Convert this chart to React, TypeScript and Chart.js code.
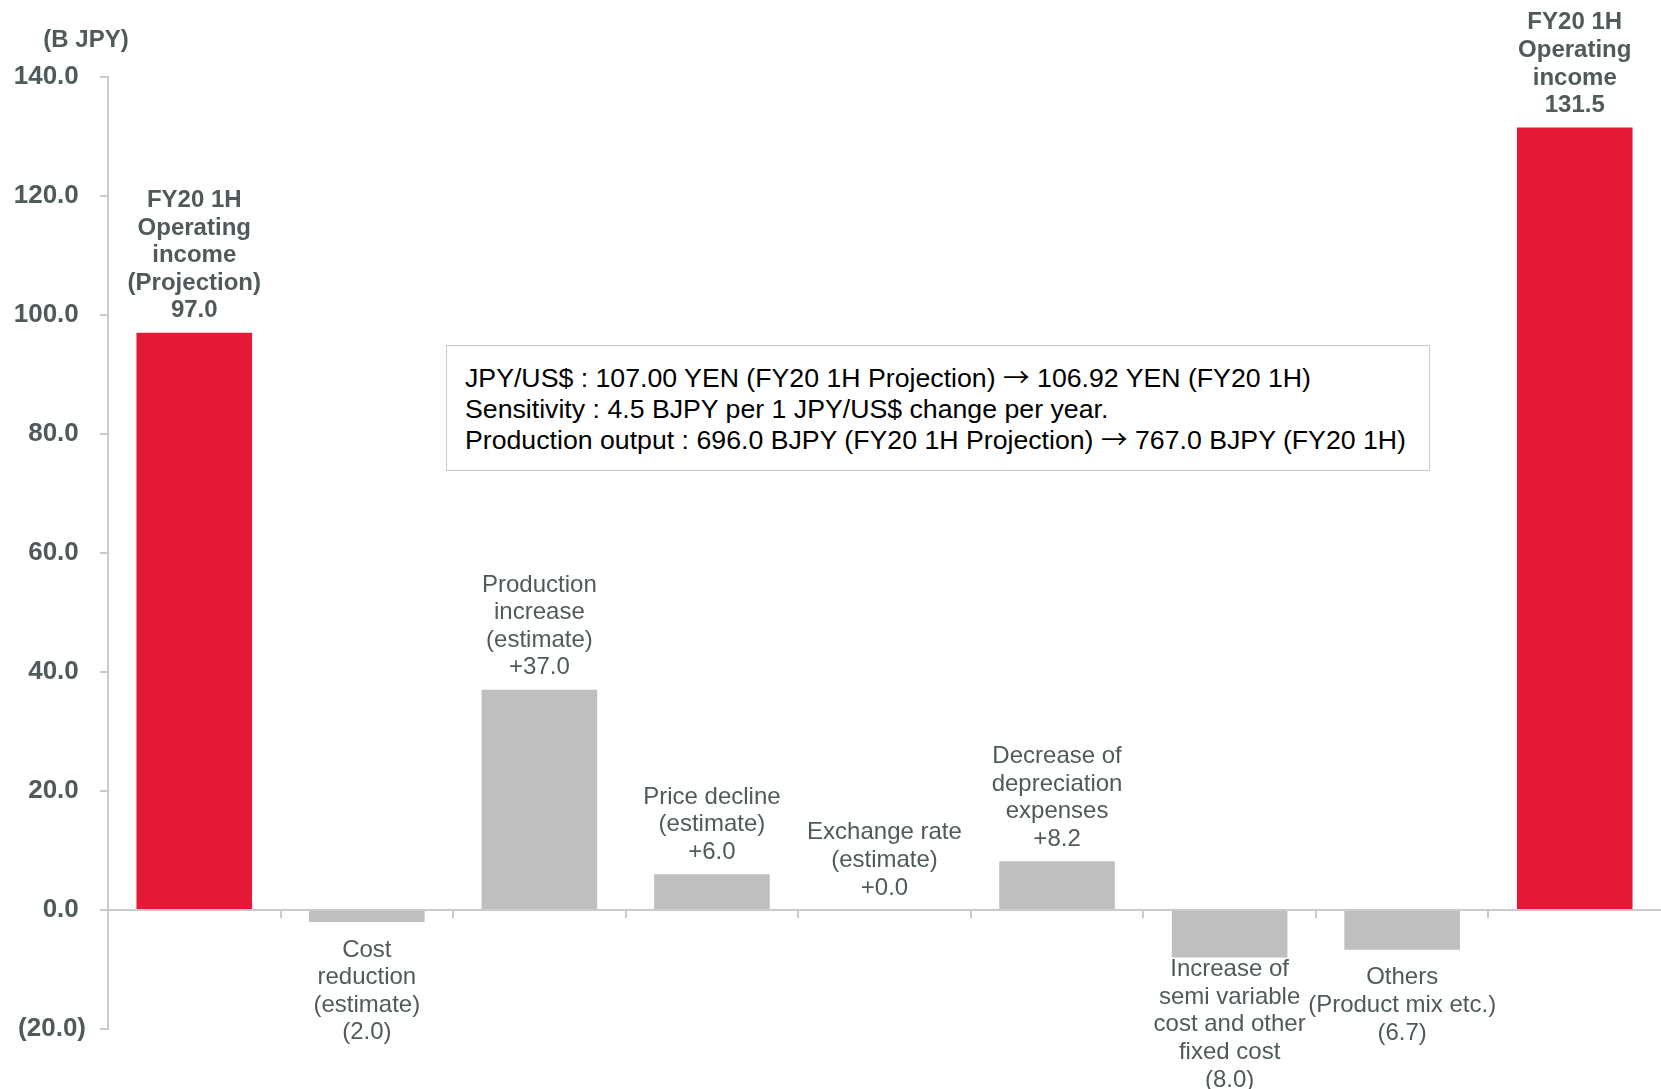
import { useEffect, useRef } from "react";
import { Chart, registerables } from "chart.js";

Chart.register(...registerables);

// Category captions, one string per text line
const categoryLines: string[][] = [
  ["FY20 1H", "Operating", "income", "(Projection)"],
  ["Cost", "reduction", "(estimate)"],
  ["Production", "increase", "(estimate)"],
  ["Price decline", "(estimate)"],
  ["Exchange rate", "(estimate)"],
  ["Decrease of", "depreciation", "expenses"],
  ["Increase of", "semi variable", "cost and other", "fixed cost"],
  ["Others", "(Product mix etc.)"],
  ["FY20 1H", "Operating", "income"],
];

// Operating income (B JPY) and the change factors between the two totals
const values = [97.0, -2.0, 37.0, 6.0, 0.0, 8.2, -8.0, -6.7, 131.5];
const isTotal = [true, false, false, false, false, false, false, false, true];

const yMin = -20;
const yMax = 140;
const yStep = 20;

const unitLabel = "(B JPY)";
const noteLines = [
  "JPY/US$ : 107.00 YEN (FY20 1H Projection) \u2192 106.92 YEN (FY20 1H)",
  "Sensitivity : 4.5 BJPY per 1 JPY/US$ change per year.",
  "Production output : 696.0 BJPY (FY20 1H Projection) \u2192 767.0 BJPY (FY20 1H)",
];

const WIDTH = 1661;
const HEIGHT = 1089;
const FONT = '"Liberation Sans", Arial, sans-serif';
const ARROW_FONT = '"Noto Sans CJK JP", "DejaVu Sans", sans-serif';
const RED = "#E31937";
const GREY = "#BFBFBF";
const AXIS = "#CACACA";
const TEXT = "#505A5A";
const LINE = 27.6;

function fmtValue(v: number, total: boolean): string {
  if (total) return v.toFixed(1);
  if (v < 0) return `(${(-v).toFixed(1)})`;
  return `+${v.toFixed(1)}`;
}

function fmtTick(v: number): string {
  if (v < 0) return `(${(-v).toFixed(1)})`;
  return `${v.toFixed(1)}\u00a0`;
}

// renders a note line, giving the arrows a wider glyph
function noteLine(t: string) {
  const parts = t.split("\u2192");
  const out: any[] = [];
  parts.forEach((p, i) => {
    if (i > 0)
      out.push(
        <span key={`a${i}`} style={{ fontFamily: ARROW_FONT, lineHeight: 0 }}>
          {"\u2192"}
        </span>
      );
    out.push(<span key={`t${i}`}>{p}</span>);
  });
  return out;
}

const labelPlugin = {
  id: "barLabels",
  afterDatasetsDraw(chart: any) {
    const { ctx, scales } = chart;
    const xs = scales.x;
    const ys = scales.y;
    const y0 = ys.getPixelForValue(0);
    ctx.save();

    // category boundary ticks hanging below the zero line
    ctx.strokeStyle = AXIS;
    ctx.lineWidth = 2;
    for (let i = 1; i < values.length; i++) {
      const bx = Math.round((xs.getPixelForValue(i - 1) + xs.getPixelForValue(i)) / 2);
      ctx.beginPath();
      ctx.moveTo(bx, y0);
      ctx.lineTo(bx, y0 + 8);
      ctx.stroke();
    }

    // captions with values above positive bars, below negative ones
    const meta = chart.getDatasetMeta(0);
    ctx.fillStyle = TEXT;
    ctx.textAlign = "center";
    ctx.textBaseline = "middle";
    values.forEach((v, i) => {
      const bar = meta.data[i];
      const lines = [...categoryLines[i], fmtValue(v, isTotal[i])];
      ctx.font = `${isTotal[i] ? "bold " : ""}24px ${FONT}`;
      if (v >= 0) {
        const last = bar.y - 22;
        lines.forEach((t, k) => ctx.fillText(t, bar.x, last - (lines.length - 1 - k) * LINE));
      } else {
        let first = bar.y + 28;
        const maxLast = chart.height - 9;
        if (first + (lines.length - 1) * LINE > maxLast) first = maxLast - (lines.length - 1) * LINE;
        lines.forEach((t, k) => ctx.fillText(t, bar.x, first + k * LINE));
      }
    });
    ctx.restore();
  },
};

export default function App() {
  const canvasRef = useRef<HTMLCanvasElement | null>(null);

  useEffect(() => {
    const canvas = canvasRef.current;
    if (!canvas) return;
    const chart = new Chart(canvas, {
      type: "bar",
      data: {
        labels: categoryLines.map((l) => l.join(" ")),
        datasets: [
          {
            data: values,
            backgroundColor: values.map((_, i) => (isTotal[i] ? RED : GREY)),
            borderWidth: 0,
            barPercentage: 0.67,
            categoryPercentage: 1,
          },
        ],
      },
      options: {
        animation: false,
        responsive: false,
        layout: { padding: { top: 77, bottom: 60, left: 0, right: 0 } },
        plugins: {
          legend: { display: false },
          tooltip: { enabled: false },
        },
        scales: {
          x: {
            display: false,
            offset: true,
          },
          y: {
            min: yMin,
            max: yMax,
            afterFit: (scale: any) => {
              scale.width = 108;
            },
            ticks: {
              stepSize: yStep,
              padding: 14,
              color: TEXT,
              font: { family: FONT, size: 26, weight: "bold" },
              callback: (v: any) => fmtTick(Number(v)),
            },
            grid: {
              drawOnChartArea: true,
              drawTicks: true,
              tickLength: 8,
              lineWidth: 2,
              tickColor: AXIS,
              color: (c: any) => (c.tick && c.tick.value === 0 ? AXIS : "rgba(0,0,0,0)"),
            },
            border: { display: true, color: AXIS, width: 2 },
          },
        },
      },
      plugins: [labelPlugin],
    });
    return () => chart.destroy();
  }, []);

  return (
    <div
      style={{
        position: "fixed",
        left: 0,
        top: 0,
        width: WIDTH,
        height: HEIGHT,
        background: "#fff",
        overflow: "hidden",
        fontFamily: FONT,
      }}
    >
      <canvas ref={canvasRef} width={WIDTH} height={HEIGHT} style={{ display: "block" }} />
      <div
        style={{
          position: "absolute",
          left: 0,
          top: 25,
          width: 172,
          textAlign: "center",
          fontWeight: "bold",
          fontSize: 24,
          lineHeight: "28px",
          color: TEXT,
        }}
      >
        {unitLabel}
      </div>
      <div
        style={{
          position: "absolute",
          left: 446,
          top: 345,
          width: 984,
          height: 126,
          boxSizing: "border-box",
          border: `1px solid ${AXIS}`,
          background: "#fff",
          paddingLeft: 18,
          paddingTop: 17,
          fontSize: 26.7,
          color: "#000",
          whiteSpace: "nowrap",
        }}
      >
        {noteLines.map((t, i) => (
          <div key={i} style={{ height: 31, lineHeight: "31px" }}>
            {noteLine(t)}
          </div>
        ))}
      </div>
    </div>
  );
}
